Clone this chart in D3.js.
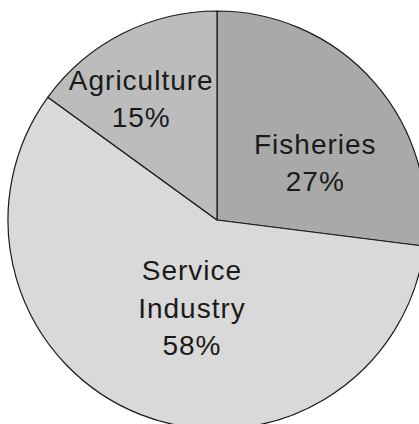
<!DOCTYPE html>
<html>
<head>
<meta charset="utf-8">
<script src="https://cdn.jsdelivr.net/npm/d3@7"></script>
<style>
  html, body { margin: 0; padding: 0; background: #ffffff; }
  svg { display: block; }
  text { font-family: "Liberation Sans", Arial, sans-serif; }
</style>
</head>
<body>
<script>
// Sector shares of employment, clockwise from 12 o'clock
const categories = ["Fisheries", "Service Industry", "Agriculture"];
const shares = [27, 58, 15];
const sliceColors = ["#a9a9a9", "#d9d9d9", "#bcbcbc"];

const width = 419, height = 424;
const cx = 217, cy = 220, radius = 209;

// label placement: angle offset (deg) from slice mid-angle and distance from center
const labelLayout = [
  { dAngle: 11, dist: 114 },
  { dAngle: -5.7, dist: 91.5 },
  { dAngle: -5, dist: 143 }
];
const lineGap = 37.5;

const svg = d3.select("body").append("svg")
  .attr("width", width)
  .attr("height", height);

const g = svg.append("g").attr("transform", `translate(${cx},${cy})`);

const pie = d3.pie().sort(null).value(d => d.value);
const arcs = pie(categories.map((c, i) => ({ name: c, value: shares[i] })));
const arc = d3.arc().innerRadius(0).outerRadius(radius);

g.selectAll("path.slice")
  .data(arcs)
  .join("path")
  .attr("class", "slice")
  .attr("d", arc)
  .attr("fill", (d, i) => sliceColors[i])
  .attr("stroke", "#1a1a1a")
  .attr("stroke-width", 1.2)
  .attr("stroke-linejoin", "round");

// text lines for each slice: name (split for long names) and percentage
function labelLines(d) {
  const parts = d.data.name === "Service Industry" ? ["Service", "Industry"] : [d.data.name];
  return parts.concat([d.data.value + "%"]);
}

arcs.forEach((d, i) => {
  const mid = (d.startAngle + d.endAngle) / 2 + labelLayout[i].dAngle * Math.PI / 180;
  const x = Math.sin(mid) * labelLayout[i].dist;
  const y = -Math.cos(mid) * labelLayout[i].dist;
  const lines = labelLines(d);
  const t = g.append("text")
    .attr("text-anchor", "middle")
    .attr("font-size", 28)
    .attr("letter-spacing", 1)
    .attr("fill", "#1a1a1a");
  lines.forEach((ln, k) => {
    t.append("tspan")
      .attr("x", x)
      .attr("y", y + (k - (lines.length - 1) / 2) * lineGap + 10)
      .text(ln);
  });
});
</script>
</body>
</html>
